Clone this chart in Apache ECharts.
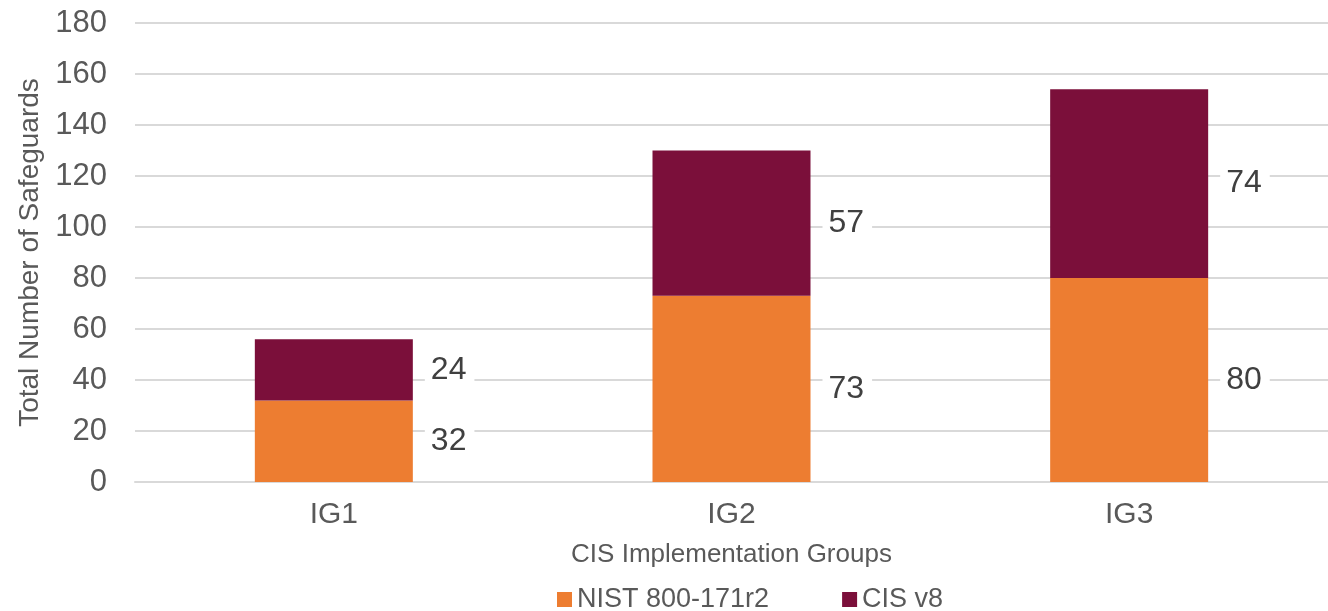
<!DOCTYPE html>
<html>
<head>
<meta charset="utf-8">
<script src="https://cdn.jsdelivr.net/npm/echarts@6/dist/echarts.min.js"></script>
<style>
html, body { margin: 0; padding: 0; background: #fff; }
#chart { width: 1328px; height: 611px; }
</style>
</head>
<body>
<div id="chart"></div>
<script>
var groups = ['IG1', 'IG2', 'IG3'];
var nistValues = [32, 73, 80];
var cisValues = [24, 57, 74];
var seriesNames = ['NIST 800-171r2', 'CIS v8'];

var chart = echarts.init(document.getElementById('chart'));

function segLabel() {
  return {
    show: true,
    position: 'right',
    distance: 12,
    color: '#404040',
    fontSize: 32,
    fontFamily: 'Liberation Sans, Arial, sans-serif',
    backgroundColor: '#fff',
    padding: [2, 8, 2, 6]
  };
}

chart.setOption({
  animation: false,
  textStyle: { fontFamily: 'Liberation Sans, Arial, sans-serif' },
  grid: { left: 135, right: 0, top: 23, bottom: 129 },
  legend: {
    left: 552,
    top: 581,
    itemWidth: 15,
    itemHeight: 15,
    itemGap: 73,
    icon: 'rect',
    textStyle: { fontSize: 27, color: '#595959' },
    data: seriesNames
  },
  xAxis: {
    type: 'category',
    data: groups,
    name: 'CIS Implementation Groups',
    nameLocation: 'middle',
    nameGap: 60,
    nameTextStyle: { fontSize: 26, color: '#595959' },
    axisLine: { lineStyle: { color: '#d9d9d9', width: 2 } },
    axisTick: { show: false },
    axisLabel: { fontSize: 30, color: '#595959', margin: 18 }
  },
  yAxis: {
    type: 'value',
    min: 0,
    max: 180,
    interval: 20,
    name: 'Total Number of Safeguards',
    nameLocation: 'middle',
    nameGap: 86,
    nameTextStyle: { fontSize: 28, color: '#595959' },
    axisLine: { show: false },
    axisTick: { show: false },
    axisLabel: { fontSize: 31, color: '#595959', margin: 28 },
    splitLine: { lineStyle: { color: '#d9d9d9', width: 2 } }
  },
  series: [
    {
      name: seriesNames[0],
      type: 'bar',
      stack: 'total',
      barWidth: 158,
      itemStyle: { color: '#ED7D31' },
      label: segLabel(),
      data: nistValues
    },
    {
      name: seriesNames[1],
      type: 'bar',
      stack: 'total',
      barWidth: 158,
      itemStyle: { color: '#7B0F3A' },
      label: segLabel(),
      data: cisValues
    }
  ]
});
</script>
</body>
</html>
